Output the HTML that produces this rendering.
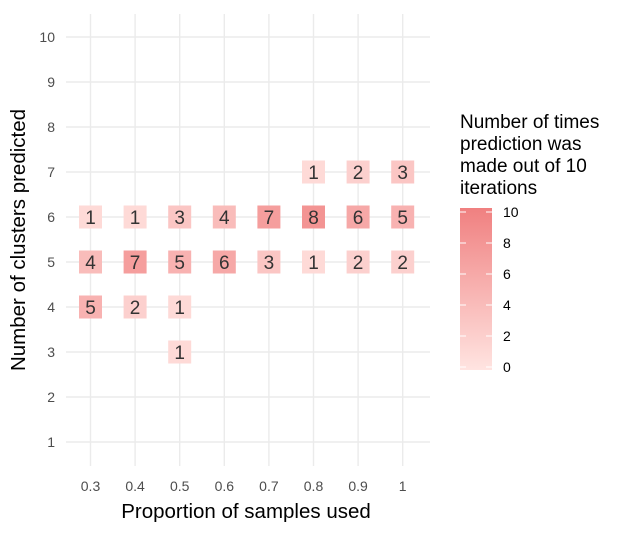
<!DOCTYPE html>
<html><head><meta charset="utf-8"><style>
body{margin:0;background:#fff;}
svg text{font-family:"Liberation Sans",Arial,sans-serif;}
</style></head><body>
<svg width="639" height="533" xmlns="http://www.w3.org/2000/svg">
<defs><linearGradient id="lg" x1="0" y1="1" x2="0" y2="0"><stop offset="0" stop-color="#FFE4E1"/><stop offset="1" stop-color="#F08080"/></linearGradient></defs>
<g id="grid"></g>
<g id="tiles"></g>
<g id="axes"></g>
<text x="246" y="518" font-size="20.5" fill="#000" text-anchor="middle">Proportion of samples used</text>
<text transform="translate(25,240) rotate(-90)" font-size="20.5" fill="#000" text-anchor="middle">Number of clusters predicted</text>
<g>
<text x="460" y="128" font-size="19" fill="#000"><tspan x="460">Number of times</tspan><tspan x="460" dy="22">prediction was</tspan><tspan x="460" dy="22">made out of 10</tspan><tspan x="460" dy="22">iterations</tspan></text>
<rect x="460" y="208" width="32" height="162" fill="url(#lg)"/>
<g id="legticks"></g>
</g>
</svg>
<script>
const xCats=[0.3,0.4,0.5,0.6,0.7,0.8,0.9,1];
const xLabels=["0.3","0.4","0.5","0.6","0.7","0.8","0.9","1"];
const yTicks=[1,2,3,4,5,6,7,8,9,10];
const tileX=[0.3,0.3,0.3,0.4,0.4,0.4,0.5,0.5,0.5,0.5,0.6,0.6,0.7,0.7,0.8,0.8,0.8,0.9,0.9,0.9,1,1,1];
const tileY=[6,5,4,6,5,4,6,5,4,3,6,5,6,5,7,6,5,7,6,5,7,6,5];
const tileN=[1,4,5,1,7,2,3,5,1,1,4,6,7,3,1,8,1,2,6,2,3,5,2];
const legTicks=[0,2,4,6,8,10];
const NS="http://www.w3.org/2000/svg";
const xs=v=>90.5+(v-0.3)/0.1*44.6;
const ys=v=>442-(v-1)*45;
const ls=v=>367-v*15.5;
function mk(t,a,p){const e=document.createElementNS(NS,t);for(const k in a)e.setAttribute(k,a[k]);p.appendChild(e);return e;}
function col(n){const f=n/10;const a=[255,228,225],b=[240,128,128];return `rgb(${a.map((c,i)=>Math.round(c+(b[i]-c)*f)).join(',')})`;}
const g=document.getElementById('grid'),tg=document.getElementById('tiles'),ax=document.getElementById('axes'),lt=document.getElementById('legticks');
yTicks.forEach(v=>{const l=mk('line',{x1:66,x2:430,y1:ys(v),y2:ys(v),stroke:'#ebebeb','stroke-width':1.4},g);


const t=mk('text',{x:55,y:ys(v)+5,'font-size':14,fill:'#4d4d4d','text-anchor':'end'},ax);t.textContent=v;

});
xCats.forEach((v,i)=>{const l=mk('line',{x1:xs(v),x2:xs(v),y1:14,y2:466,stroke:'#ebebeb','stroke-width':1.4},g);


const t=mk('text',{x:xs(v),y:491,'font-size':14,fill:'#4d4d4d','text-anchor':'middle'},ax);t.textContent=xLabels[i];

});
tileN.forEach((n,i)=>{const cx=xs(tileX[i]),cy=ys(tileY[i]);
const r=mk('rect',{x:cx-11.5,y:cy-11.5,width:23,height:23,fill:col(n)},tg);


const t=mk('text',{x:cx,y:cy+7,'font-size':19,fill:'#333','text-anchor':'middle'},tg);t.textContent=n;

});
legTicks.forEach(v=>{mk('line',{x1:460,x2:466,y1:ls(v),y2:ls(v),stroke:'#fff','stroke-width':1},lt);mk('line',{x1:486,x2:492,y1:ls(v),y2:ls(v),stroke:'#fff','stroke-width':1},lt);
const t=mk('text',{x:503,y:ls(v)+5,'font-size':14,fill:'#000'},lt);t.textContent=v;

});
</script>
</body></html>
